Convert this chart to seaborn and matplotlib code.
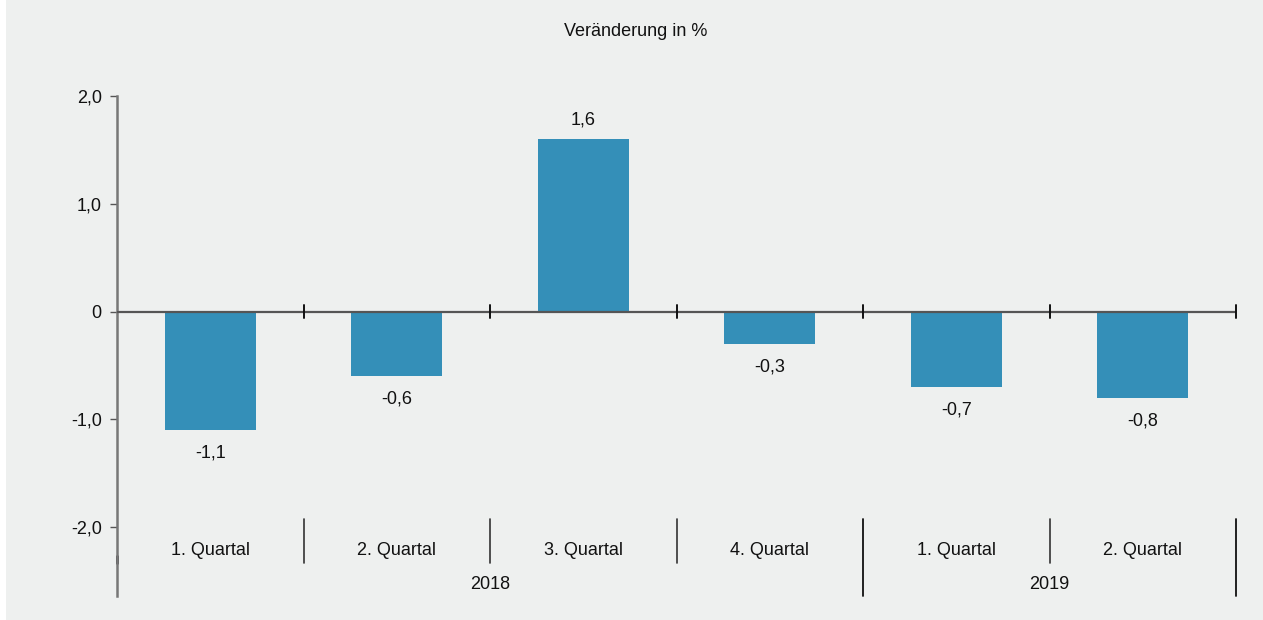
import matplotlib
matplotlib.use("Agg")
import matplotlib.pyplot as plt
from matplotlib.patches import Rectangle
import seaborn as sns
import pandas as pd

quarters = ["1. Quartal", "2. Quartal", "3. Quartal", "4. Quartal", "1. Quartal", "2. Quartal"]
years = ["2018", "2019"]
year_spans = [(0, 3), (4, 5)]
values = [-1.1, -0.6, 1.6, -0.3, -0.7, -0.8]
ytick_vals = [-2.0, -1.0, 0.0, 1.0, 2.0]
ytick_labels = ["-2,0", "-1,0", "0", "1,0", "2,0"]
title = "Veränderung in %"

BG = "#eef0ef"
BAR = "#348fb8"
FS = 13
TXT = "#111111"

sns.set_theme(style="white")
plt.rcParams["font.family"] = ["Liberation Sans", "DejaVu Sans"]

fig = plt.figure(figsize=(12.63, 6.2), dpi=100, facecolor="white")
fig.patches.append(Rectangle((6 / 1263, 0), 1 - 6 / 1263, 1, transform=fig.transFigure,
                             facecolor=BG, edgecolor="none", zorder=-10))
ax = fig.add_axes([117 / 1263, 1 - 596 / 620, (1236 - 117) / 1263, (596 - 96) / 620])
ax.set_facecolor(BG)

df = pd.DataFrame({"pos": list(range(len(values))), "val": values})
sns.barplot(data=df, x="pos", y="val", color=BAR, width=0.49, saturation=1, ax=ax,
            native_scale=True, edgecolor="none")

ax.set_xlim(-0.5, len(values) - 0.5)
ax.set_ylim(-2.64, 2.0)
for s in ["top", "right", "bottom"]:
    ax.spines[s].set_visible(False)
ax.spines["left"].set_color("#777777")
ax.spines["left"].set_linewidth(1.8)
ax.set_xticks([])
ax.set_xlabel("")
ax.set_ylabel("")
ax.set_yticks(ytick_vals)
ax.set_yticklabels(ytick_labels, fontsize=FS, color=TXT)
ax.tick_params(axis="y", length=5, width=1, color="#555555", pad=6, left=True)

# zero line
ax.axhline(0, color="#555555", lw=1.6, zorder=3)
for i in range(len(values)):
    b = i + 0.5
    ax.plot([b, b], [-0.056, 0.056], color="#111111", lw=1.4, zorder=3, clip_on=False)

# value labels
for i, v in enumerate(values):
    lab = f"{v:.1f}".replace(".", ",")
    off = 19 if v >= 0 else -23
    ax.annotate(lab, (i, v), xytext=(0, off), textcoords="offset pixels",
                ha="center", va="center", fontsize=FS, color=TXT)

# category labels and separators
for i, q in enumerate(quarters):
    ax.text(i, -2.215, q, ha="center", va="center", fontsize=FS, color=TXT)
year_ends = [e + 0.5 for (_, e) in year_spans]
for i in range(len(values) - 1):
    b = i + 0.5
    if b in year_ends:
        continue
    ax.plot([b, b], [-1.93, -2.33], color="#333333", lw=1.2, clip_on=False)
ax.plot([-0.5, -0.5], [-2.27, -2.33], color="#333333", lw=2.0, clip_on=False)

# year labels and separators
for (a, e), y in zip(year_spans, years):
    ax.text((a + e) / 2, -2.53, y, ha="center", va="center", fontsize=FS, color=TXT)
for b in year_ends:
    ax.plot([b, b], [-1.93, -2.64], color="#111111", lw=1.3, clip_on=False)

fig.text(636 / 1263, 1 - 31.5 / 620, title, ha="center", va="center", fontsize=FS, color=TXT)

fig.savefig("out.png", dpi=100, facecolor=fig.get_facecolor())
